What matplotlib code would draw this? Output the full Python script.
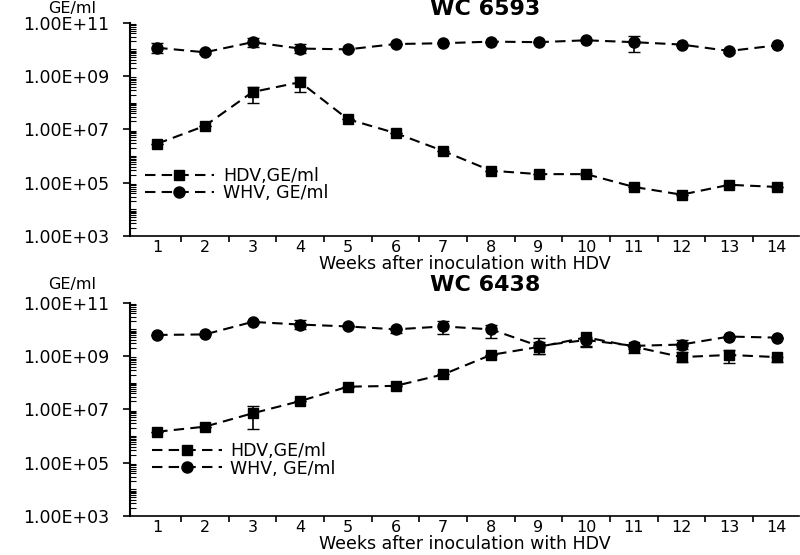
import numpy as np
import matplotlib.pyplot as plt
from matplotlib.lines import Line2D
from matplotlib.ticker import FixedLocator, LogLocator, NullFormatter

weeks = list(range(1, 15))

# WC 6593 (log10 GE/ml)
hdv_6593 = [6.46, 7.13, 8.40, 8.77, 7.38, 6.86, 6.19, 5.45, 5.32, 5.32, 4.84, 4.55, 4.92, 4.84]
hdv_6593_lo = [0, 0, 0.40, 0.38, 0, 0, 0, 0, 0, 0.05, 0, 0, 0, 0]
hdv_6593_hi = [0, 0, 0.18, 0.18, 0, 0, 0, 0, 0, 0.04, 0, 0, 0, 0]
whv_6593 = [10.06, 9.89, 10.27, 10.03, 10.00, 10.20, 10.23, 10.29, 10.27, 10.34, 10.27, 10.18, 9.94, 10.15]
whv_6593_lo = [0.18, 0.08, 0.17, 0.18, 0, 0, 0, 0, 0, 0, 0.36, 0, 0.07, 0]
whv_6593_hi = [0.17, 0.05, 0.17, 0.16, 0, 0, 0, 0, 0, 0, 0.24, 0, 0.03, 0]

# WC 6438
hdv_6438 = [6.16, 6.35, 6.85, 7.31, 7.85, 7.88, 8.31, 9.04, 9.34, 9.70, 9.35, 8.96, 9.04, 8.96]
hdv_6438_lo = [0, 0, 0.57, 0, 0, 0, 0, 0, 0.27, 0.32, 0.25, 0.18, 0.29, 0.18]
hdv_6438_hi = [0, 0, 0.28, 0, 0, 0, 0, 0, 0.19, 0, 0, 0.19, 0.17, 0]
whv_6438 = [9.79, 9.81, 10.28, 10.18, 10.11, 10.00, 10.11, 10.00, 9.38, 9.60, 9.38, 9.43, 9.73, 9.69]
whv_6438_lo = [0, 0, 0.05, 0.18, 0, 0.12, 0.27, 0.34, 0.31, 0.27, 0.1, 0.18, 0, 0]
whv_6438_hi = [0, 0, 0.05, 0.16, 0, 0, 0.20, 0.16, 0.31, 0, 0, 0.16, 0, 0]

tick_vals = [1e3, 1e5, 1e7, 1e9, 1e11]
tick_labels = ['1.00E+03', '1.00E+05', '1.00E+07', '1.00E+09', '1.00E+11']

plt.rcParams['font.family'] = ['DejaVu Sans']

fig = plt.figure(figsize=(8, 5.55), dpi=100)
dash = (0, (5, 3))


def err(vals, lo, hi):
    v = np.array(vals)
    return [10 ** v - 10 ** (v - np.array(lo)), 10 ** (v + np.array(hi)) - 10 ** v]


def panel(rect, hdv, hdv_lo, hdv_hi, whv, whv_lo, whv_hi, leg_x, leg_y):
    ax = fig.add_axes(rect)
    ax.errorbar(weeks, 10 ** np.array(hdv), yerr=err(hdv, hdv_lo, hdv_hi),
                color='black', marker='s', markersize=7, linestyle=dash,
                linewidth=1.5, capsize=4, elinewidth=1.2)
    ax.errorbar(weeks, 10 ** np.array(whv), yerr=err(whv, whv_lo, whv_hi),
                color='black', marker='o', markersize=8, linestyle=dash,
                linewidth=1.5, capsize=4, elinewidth=1.2)
    ax.set_yscale('log')
    ax.set_ylim(1e3, 1e11)
    ax.set_xlim(0.43, 14.46)
    ax.set_yticks(tick_vals)
    ax.set_yticklabels(tick_labels, fontsize=12.5)
    ax.yaxis.set_minor_locator(LogLocator(base=10, subs=np.arange(1, 10), numticks=100))
    ax.yaxis.set_minor_formatter(NullFormatter())
    ax.tick_params(axis='y', which='major', direction='out', length=5, width=1.2, pad=10)
    ax.tick_params(axis='y', which='minor', direction='in', length=4, width=0.8)
    ax.set_xticks(weeks)
    ax.set_xticklabels([str(w) for w in weeks], fontsize=11.5)
    ax.tick_params(axis='x', which='major', length=0, pad=3)
    ax.xaxis.set_minor_locator(FixedLocator(np.arange(1.5, 14.6, 1)))
    ax.tick_params(axis='x', which='minor', direction='out', length=4, width=1.2)
    ax.spines['top'].set_visible(False)
    ax.spines['right'].set_visible(False)
    ax.spines['left'].set_linewidth(1.5)
    ax.spines['bottom'].set_linewidth(1.2)
    ax.set_xlabel('Weeks after inoculation with HDV', fontsize=12.5, labelpad=0)
    handles = [Line2D([], [], color='black', marker='s', markersize=7, linestyle=dash, linewidth=1.5),
               Line2D([], [], color='black', marker='o', markersize=8, linestyle=dash, linewidth=1.5)]
    ax.legend(handles, ['HDV,GE/ml', 'WHV, GE/ml'], loc='upper left',
              bbox_to_anchor=(leg_x, leg_y), frameon=False,
              fontsize=12.5, handlelength=4, handletextpad=0.5, labelspacing=-0.05,
              borderaxespad=0, borderpad=0)
    return ax


panel([0.1625, 0.5748, 0.836, 0.3843], hdv_6593, hdv_6593_lo, hdv_6593_hi,
      whv_6593, whv_6593_lo, whv_6593_hi, 0.022, 0.325)
panel([0.1625, 0.0703, 0.836, 0.3843], hdv_6438, hdv_6438_lo, hdv_6438_hi,
      whv_6438, whv_6438_lo, whv_6438_hi, 0.033, 0.345)

fig.text(0.606, 1 - 9 / 555, 'WC 6593', ha='center', va='center', fontsize=16, fontweight='bold')
fig.text(0.606, 1 - 285 / 555, 'WC 6438', ha='center', va='center', fontsize=16, fontweight='bold')
fig.text(0.09, 1 - 9 / 555, 'GE/ml', ha='center', va='center', fontsize=11.5)
fig.text(0.09, 1 - 284 / 555, 'GE/ml', ha='center', va='center', fontsize=11.5)

fig.savefig('out.png', dpi=100)
